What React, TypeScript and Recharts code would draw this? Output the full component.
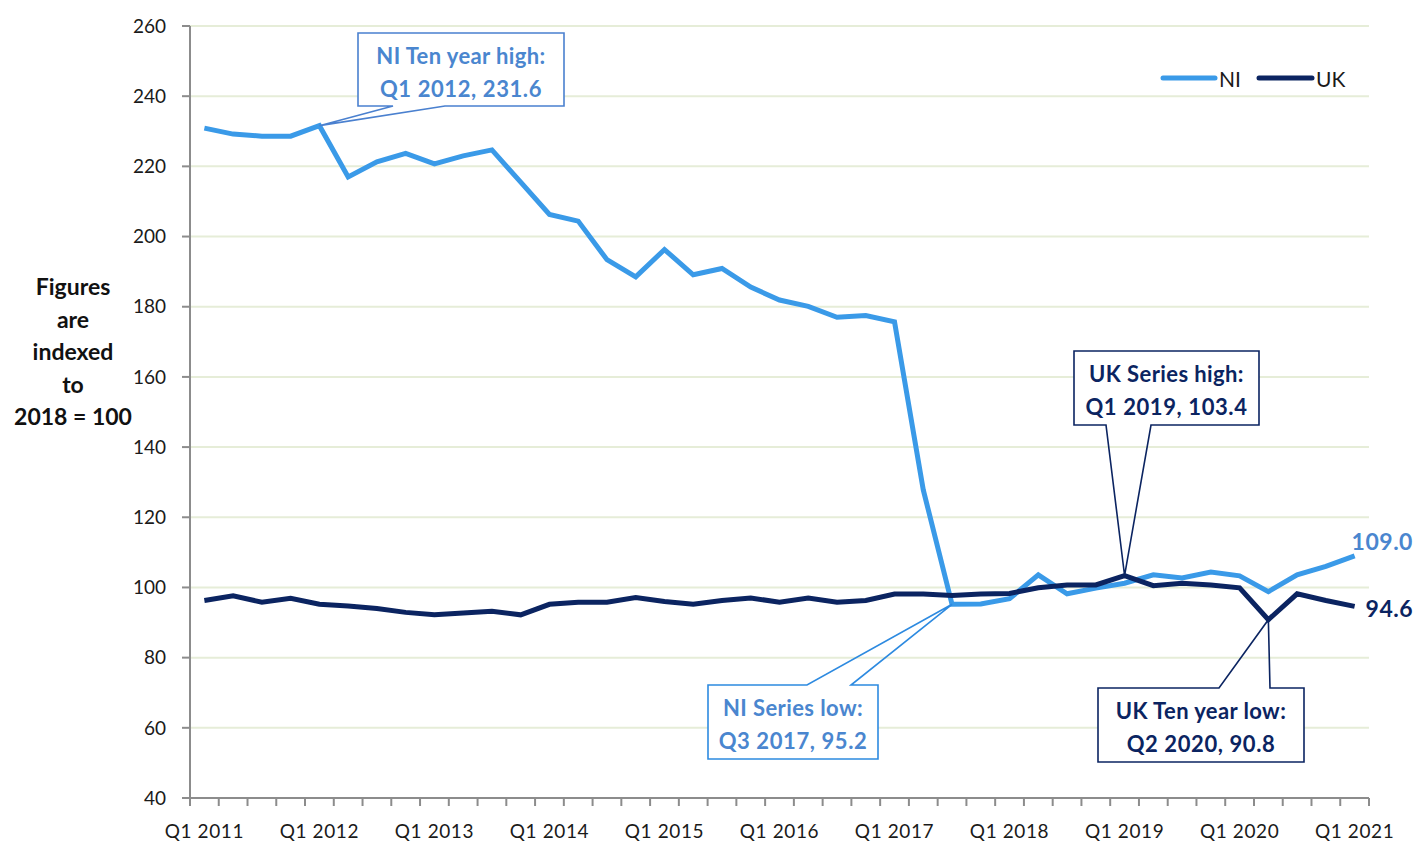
import React from 'react';
import { LineChart, Line, XAxis, YAxis, CartesianGrid } from 'recharts';

const categories = [
  'Q1 2011', 'Q2 2011', 'Q3 2011', 'Q4 2011',
  'Q1 2012', 'Q2 2012', 'Q3 2012', 'Q4 2012',
  'Q1 2013', 'Q2 2013', 'Q3 2013', 'Q4 2013',
  'Q1 2014', 'Q2 2014', 'Q3 2014', 'Q4 2014',
  'Q1 2015', 'Q2 2015', 'Q3 2015', 'Q4 2015',
  'Q1 2016', 'Q2 2016', 'Q3 2016', 'Q4 2016',
  'Q1 2017', 'Q2 2017', 'Q3 2017', 'Q4 2017',
  'Q1 2018', 'Q2 2018', 'Q3 2018', 'Q4 2018',
  'Q1 2019', 'Q2 2019', 'Q3 2019', 'Q4 2019',
  'Q1 2020', 'Q2 2020', 'Q3 2020', 'Q4 2020',
  'Q1 2021',
];

const niValues = [
  230.9, 229.2, 228.6, 228.6, 231.6, 217.0, 221.3, 223.7, 220.7, 223.0,
  224.7, 215.5, 206.3, 204.4, 193.4, 188.5, 196.3, 189.1, 190.9, 185.6,
  181.9, 180.1, 177.0, 177.5, 175.7, 127.8, 95.2, 95.3, 96.8, 103.6,
  98.2, 99.8, 101.2, 103.6, 102.7, 104.4, 103.3, 98.8, 103.6, 106.0,
  109.0,
];

const ukValues = [
  96.3, 97.6, 95.8, 96.9, 95.2, 94.7, 94.0, 92.9, 92.2, 92.7,
  93.2, 92.2, 95.2, 95.8, 95.8, 97.1, 96.0, 95.2, 96.3, 97.0,
  95.8, 97.0, 95.8, 96.3, 98.1, 98.1, 97.7, 98.1, 98.3, 99.9,
  100.7, 100.7, 103.4, 100.5, 101.2, 100.7, 99.9, 90.8, 98.2, 96.3,
  94.6,
];

const yTicks = [40, 60, 80, 100, 120, 140, 160, 180, 200, 220, 240, 260];
const xLabelTicks = ['Q1 2011', 'Q1 2012', 'Q1 2013', 'Q1 2014', 'Q1 2015', 'Q1 2016', 'Q1 2017', 'Q1 2018', 'Q1 2019', 'Q1 2020', 'Q1 2021'];
const yTitleLines = ['Figures', 'are', 'indexed', 'to', '2018 = 100'];
const seriesNames = ['NI', 'UK'];

const data = categories.map((q, i) => ({ q, ni: niValues[i], uk: ukValues[i] }));

const FONT = 'Lato, "Open Sans", sans-serif';
const NI_COLOR = '#3a9ae8';
const UK_COLOR = '#0b2461';
const NI_TEXT = '#4a86cf';
const AXIS_COLOR = '#8c8c8c';

const CHART_W = 1418;
const CHART_H = 841;
const MARGIN = { top: 26, right: 49, bottom: 0, left: 0 };
const Y_AXIS_W = 190;
const X_AXIS_H = 43;
const PLOT_W = CHART_W - MARGIN.left - MARGIN.right - Y_AXIS_W;
const BAND = PLOT_W / categories.length;

type CalloutCfg = {
  index: number;
  title: string;
  box: { x: number; y: number; w: number; h: number };
  edge: 'top' | 'bottom';
  anchors: [number, number];
  text: string;
  border: string;
};

const niCallouts: CalloutCfg[] = [
  { index: 4, title: 'NI Ten year high:', box: { x: 358, y: 33, w: 206, h: 73 }, edge: 'bottom', anchors: [393, 445], text: NI_TEXT, border: '#4a80cf' },
  { index: 26, title: 'NI Series low:', box: { x: 708, y: 685, w: 170, h: 74 }, edge: 'top', anchors: [807, 851], text: NI_TEXT, border: '#2d8ae0' },
];

const ukCallouts: CalloutCfg[] = [
  { index: 32, title: 'UK Series high:', box: { x: 1074, y: 351, w: 185, h: 74 }, edge: 'bottom', anchors: [1106, 1151], text: UK_COLOR, border: UK_COLOR },
  { index: 37, title: 'UK Ten year low:', box: { x: 1098, y: 688, w: 206, h: 74 }, edge: 'top', anchors: [1219, 1270], text: UK_COLOR, border: UK_COLOR },
];

function Callout({ cfg, px, py, value }: { cfg: CalloutCfg; px: number; py: number; value: number }) {
  const { x, y, w, h } = cfg.box;
  const [a1, a2] = cfg.anchors;
  const r = x + w;
  const b = y + h;
  const d =
    cfg.edge === 'top'
      ? `M${x},${y} L${a1},${y} L${px},${py} L${a2},${y} L${r},${y} L${r},${b} L${x},${b} Z`
      : `M${x},${y} L${r},${y} L${r},${b} L${a2},${b} L${px},${py} L${a1},${b} L${x},${b} Z`;
  const cx = x + w / 2;
  return (
    <g>
      <rect x={x} y={y} width={w} height={h} fill="#ffffff" />
      <path d={d} fill="none" stroke={cfg.border} strokeWidth={1.6} strokeLinejoin="miter" />
      <text x={cx} y={y + 22} textAnchor="middle" dominantBaseline="central" fill={cfg.text} fontFamily={FONT} fontWeight={700} fontSize={22} letterSpacing={0.4}>
        {cfg.title}
      </text>
      <text x={cx} y={y + 55} textAnchor="middle" dominantBaseline="central" fill={cfg.text} fontFamily={FONT} fontWeight={700} fontSize={22} letterSpacing={0.6}>
        {`${categories[cfg.index]}, ${value.toFixed(1)}`}
      </text>
    </g>
  );
}

const makeLabel = (callouts: CalloutCfg[], values: number[], endColor: string, endDx: number, endDy: number) =>
  (props: any) => {
    const { x, y, index } = props;
    const cfg = callouts.find((c) => c.index === index);
    if (cfg) {
      return <Callout key={`c-${index}`} cfg={cfg} px={x} py={y} value={values[index]} />;
    }
    if (index === values.length - 1) {
      return (
        <text key={`e-${index}`} x={x + endDx} y={y + endDy} dominantBaseline="central" fill={endColor} fontFamily={FONT} fontWeight={700} fontSize={23} letterSpacing={0.5}>
          {values[index].toFixed(1)}
        </text>
      );
    }
    return <g key={`n-${index}`} />;
  };

const XTick = (props: any) => {
  const { x, y, payload } = props;
  const idx = categories.indexOf(payload.value);
  const left = x - BAND / 2;
  return (
    <g>
      <line x1={left} y1={y} x2={left} y2={y + 8} stroke={AXIS_COLOR} strokeWidth={2} />
      {idx === categories.length - 1 && (
        <line x1={x + BAND / 2} y1={y} x2={x + BAND / 2} y2={y + 8} stroke={AXIS_COLOR} strokeWidth={2} />
      )}
      {xLabelTicks.includes(payload.value) && (
        <text x={x} y={y + 32} textAnchor="middle" dominantBaseline="central" fill="#1a1a1a" fontFamily={FONT} fontSize={19} letterSpacing={0.6}>
          {payload.value}
        </text>
      )}
    </g>
  );
};

const LegendOverlay = () => (
  <svg width={200} height={30} style={{ position: 'absolute', left: 1160, top: 63, overflow: 'visible' }}>
    <line x1={3} y1={15} x2={55} y2={15} stroke={NI_COLOR} strokeWidth={5} strokeLinecap="round" />
    <text x={59} y={15} dominantBaseline="central" fill="#1a1a1a" fontFamily={FONT} fontSize={21}>{seriesNames[0]}</text>
    <line x1={99} y1={15} x2={152} y2={15} stroke={UK_COLOR} strokeWidth={5} strokeLinecap="round" />
    <text x={156} y={15} dominantBaseline="central" fill="#1a1a1a" fontFamily={FONT} fontSize={21}>{seriesNames[1]}</text>
  </svg>
);

export default function App() {
  return (
    <div style={{ position: 'absolute', left: 0, top: 0, width: CHART_W, height: CHART_H, background: '#ffffff' }}>
      <LineChart width={CHART_W} height={CHART_H} data={data} margin={MARGIN}>
        <CartesianGrid vertical={false} stroke="#e6edd8" strokeWidth={2} />
        <XAxis
          dataKey="q"
          scale="band"
          interval={0}
          height={X_AXIS_H}
          tickLine={false}
          tickSize={0}
          tickMargin={0}
          axisLine={{ stroke: AXIS_COLOR, strokeWidth: 2 }}
          tick={<XTick />}
        />
        <YAxis
          domain={[40, 260]}
          ticks={yTicks}
          interval={0}
          width={Y_AXIS_W}
          tickSize={8}
          tickMargin={16}
          axisLine={{ stroke: AXIS_COLOR, strokeWidth: 2 }}
          tickLine={{ stroke: AXIS_COLOR, strokeWidth: 2 }}
          tick={{ fill: '#1a1a1a', fontFamily: FONT, fontSize: 19 }}
        />
        <Line
          type="linear"
          dataKey="ni"
          name={seriesNames[0]}
          stroke={NI_COLOR}
          strokeWidth={5}
          dot={false}
          activeDot={false}
          isAnimationActive={false}
          label={makeLabel(niCallouts, niValues, NI_TEXT, -3, -15)}
        />
        <Line
          type="linear"
          dataKey="uk"
          name={seriesNames[1]}
          stroke={UK_COLOR}
          strokeWidth={5}
          dot={false}
          activeDot={false}
          isAnimationActive={false}
          label={makeLabel(ukCallouts, ukValues, UK_COLOR, 11, 2)}
        />
      </LineChart>
      <LegendOverlay />
      <div
        style={{
          position: 'absolute',
          left: 0,
          top: 270,
          width: 146,
          textAlign: 'center',
          fontFamily: FONT,
          fontWeight: 700,
          fontSize: 23,
          lineHeight: '32.5px',
          color: '#111',
        }}
      >
        {yTitleLines.map((l) => (
          <div key={l}>{l}</div>
        ))}
      </div>
    </div>
  );
}
